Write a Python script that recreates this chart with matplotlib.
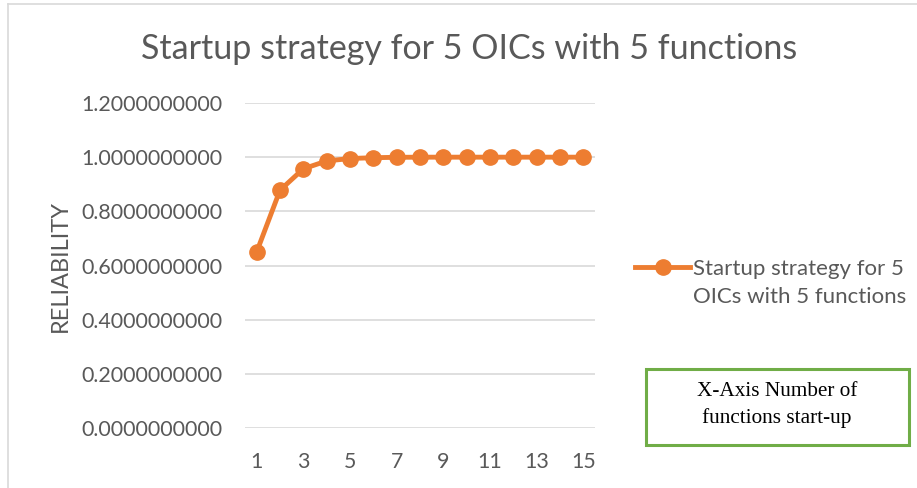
import matplotlib
matplotlib.use("Agg")
import matplotlib.pyplot as plt
from matplotlib.patches import Rectangle
from matplotlib.lines import Line2D

x_values = list(range(1, 16))
reliability = [0.650, 0.878, 0.957, 0.986, 0.995, 0.998, 0.9995, 0.9999, 1.0, 1.0, 1.0, 1.0, 1.0, 1.0, 1.0]
x_tick_labels = ["1", "3", "5", "7", "9", "11", "13", "15"]
y_ticks = [0.0, 0.2, 0.4, 0.6, 0.8, 1.0, 1.2]
series_name = "Startup strategy for 5\nOICs with 5 functions"
title = "Startup strategy for 5 OICs with 5 functions"

plt.rcParams['font.family'] = ['Lato', 'DejaVu Sans']
gray = "#595959"
orange = "#ED7D31"

fig = plt.figure(figsize=(9.17, 4.88), dpi=100)
ax = fig.add_axes([245/917, (488-428)/488, 350/917, (428-103)/488])

ax.plot(x_values, reliability, color=orange, lw=3.5, marker='o', ms=11, zorder=3, solid_capstyle='round')
ax.set_xlim(0.5, 15.5)
ax.set_ylim(0, 1.2)
ax.set_yticks(y_ticks)
ax.set_yticklabels([f"{v:.10f}" for v in y_ticks], fontsize=15.4, color=gray)
ax.set_xticks([int(t) for t in x_tick_labels])
ax.set_xticklabels(x_tick_labels, fontsize=15.4, color=gray)
ax.tick_params(axis='y', length=0, pad=16)
ax.tick_params(axis='x', length=0, pad=17)
ax.grid(axis='y', color='#D9D9D9', lw=1.2)
ax.set_axisbelow(True)
for s in ax.spines.values():
    s.set_visible(False)
ax.set_ylabel("RELIABILITY", fontsize=17, color=gray, labelpad=8)

fig.text(469/917, 1 - 49/488, title, ha='center', va='center', fontsize=24.5, color=gray)

# legend
fig.add_artist(Line2D([635/917, 690/917], [1-267/488, 1-267/488], color=orange, lw=3.5))
fig.add_artist(Line2D([663/917], [1-267/488], color=orange, marker='o', ms=11))
fig.text(693/917, 1-283/488, series_name, ha='left', va='center', fontsize=16, color=gray, linespacing=1.55)

# outer border (top and left)
fig.add_artist(Line2D([8/917, 8/917], [0, 1-4/488], color='#D9D9D9', lw=1.2))
fig.add_artist(Line2D([8/917, 1], [1-4/488, 1-4/488], color='#D9D9D9', lw=1.2))

# green textbox
fig.add_artist(Rectangle((646/917, 1-445/488), (909-646)/917, (445-369)/488,
                         transform=fig.transFigure, fill=False, edgecolor='#70AD47', lw=2.2))
fig.text(777/917, 1-405/488, "X-Axis Number of\nfunctions start-up", ha='center', va='center',
         fontsize=15.3, family=['Liberation Serif'], color='black', linespacing=1.5)

fig.savefig("out.png", dpi=100)
